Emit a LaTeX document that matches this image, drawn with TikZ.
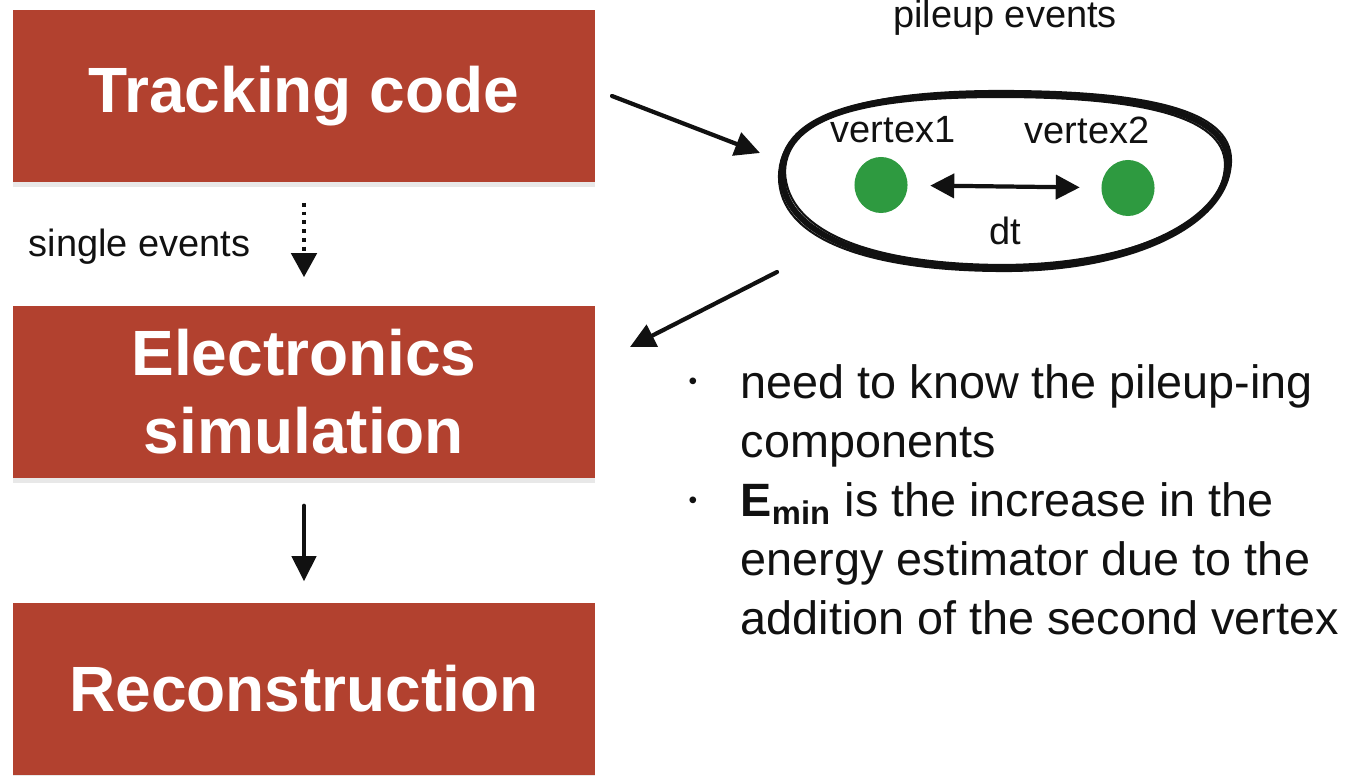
\documentclass[tikz,border=0pt]{standalone}
\usepackage{fontspec}
\setmainfont{Liberation Sans}
\usetikzlibrary{arrows.meta,shapes.geometric,shadows}

\definecolor{stage}{HTML}{B2412F}
\definecolor{vertex}{HTML}{2E9A40}
\definecolor{ink}{HTML}{111111}

\begin{document}
\begin{tikzpicture}[
  x=0.01cm, y=-0.01cm,
  line cap=round, line join=round,
  every node/.style={inner sep=0pt, text=ink},
  stage/.style={fill=stage, text=white, align=center,
    font=\fontsize{18.2}{22.2}\selectfont\bfseries,
    minimum width=5.82cm, minimum height=1.72cm,
    drop shadow={shadow xshift=0pt, shadow yshift=-0.5mm, opacity=0.18}},
  smalltext/.style={font=\fontsize{10.8}{13}\selectfont},
  body/.style={font=\fontsize{13.3}{16.8}\selectfont, align=left, anchor=north west},
  dot/.style={font=\fontsize{7}{8}\selectfont},
  vtx/.style={ellipse, fill=vertex, minimum width=0.53cm, minimum height=0.56cm},
  flow/.style={draw=ink, line width=1.2pt, -{Triangle[length=0.25cm, width=0.24cm]}},
  dotflow/.style={draw=ink, line width=1.3pt, line cap=butt, dash pattern=on 1.1pt off 1.4pt,
    -{Triangle[length=0.24cm, width=0.25cm]}},
  span/.style={draw=ink, line width=1.2pt, {Triangle[length=0.24cm, width=0.24cm]}-{Triangle[length=0.24cm, width=0.24cm]}},
  loop/.style={draw=ink, line width=1.7pt},
  sketch/.style={draw=ink, line width=0.6pt},
]
% processing chain
\node[stage] (track) at (304,96) {Tracking code};
\node[stage] (elec) at (304,392) {Electronics\\simulation};
\node[stage] (reco) at (304,689) {Reconstruction};

\draw[dotflow, shorten <=0.2cm, shorten >=0.28cm] (track.south) -- (elec.north);
\node[smalltext, anchor=west] (single) at (28,247) {single events};
\draw[flow, shorten <=0.27cm, shorten >=0.21cm] (elec.south) -- (reco.north);

% hand drawn loop round the pileup
\draw[loop] (782,174) .. controls (782,112) and (872,94) .. (1000,94)
  .. controls (1140,94) and (1228,112) .. (1228,162)
  .. controls (1228,222) and (1130,268) .. (1005,268)
  .. controls (872,268) and (782,236) .. (782,174) -- cycle;
\draw[sketch] (785,172) .. controls (786,113) and (876,97) .. (1000,97)
  .. controls (1136,97) and (1224,115) .. (1225,164)
  .. controls (1225,225) and (1128,264) .. (1005,265)
  .. controls (874,265) and (787,233) .. (785,172) -- cycle;
\draw[sketch] (779,177) .. controls (779,114) and (868,91) .. (1000,91)
  .. controls (1144,91) and (1231,109) .. (1231,160)
  .. controls (1231,224) and (1134,271) .. (1005,271)
  .. controls (868,271) and (779,239) .. (779,177) -- cycle;
\node[smalltext] (pilecap) at (1005,18) {pileup events};

\node[vtx] (v1) at (881,185) {};
\node[vtx] (v2) at (1128,188) {};
\node[smalltext] (v1cap) at (893,130) {vertex1};
\node[smalltext] (v2cap) at (1087,130) {vertex2};
\draw[span, shorten <=0.22cm, shorten >=0.21cm] (v1) -- (v2);
\node[smalltext] (dt) at (1005,231) {dt};

\coordinate (out1) at (612,96);
\coordinate (in1) at (760,153);
\coordinate (out2) at (777,272);
\coordinate (in2) at (630,347);
\draw[flow] (out1) -- (in1);
\draw[flow] (out2) -- (in2);

% notes
\node[dot] (b1) at (693,384) {•};
\node[body] (note1) at (740,364) {need to know the pileup-ing\\components};
\node[dot] (b2) at (693,503) {•};
\node[body] (note2) at (740,482) {\textbf{E}\textsubscript{\textbf{min}} is the increase in the\\energy estimator due to the\\addition of the second vertex};

\useasboundingbox (0,0) rectangle (1345,773);
\end{tikzpicture}
\end{document}
